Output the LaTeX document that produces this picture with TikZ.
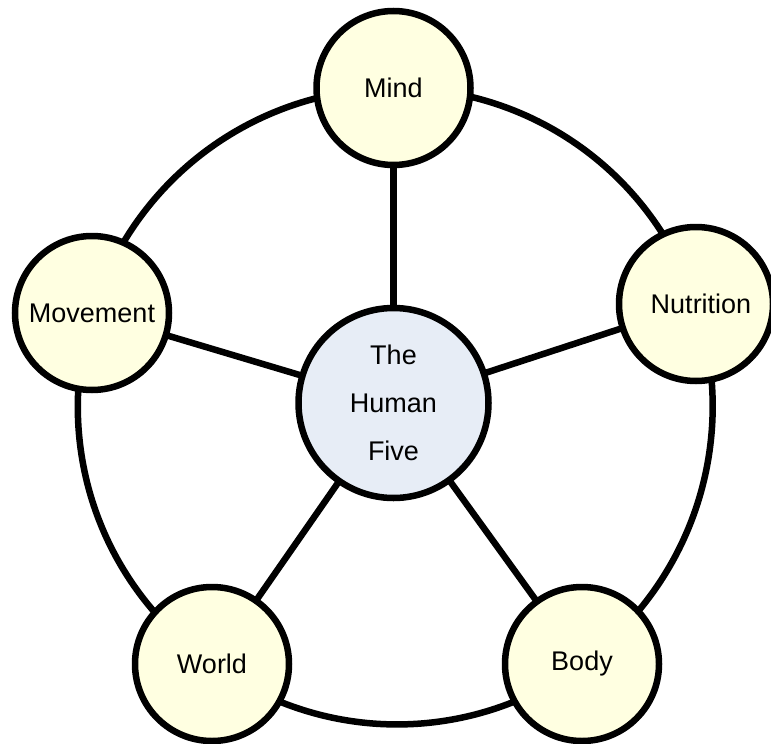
\documentclass[tikz,border=0pt]{standalone}
\usepackage{fontspec}
\setmainfont{Liberation Sans}
\usetikzlibrary{backgrounds}
\definecolor{outerfill}{RGB}{255,255,225}
\definecolor{centerfill}{RGB}{231,237,246}
\begin{document}
\begin{tikzpicture}[x=1pt,y=-1pt,
  link/.style={line width=6.5pt},
  outernode/.style={circle,draw,line width=6.5pt,fill=outerfill,minimum size=154pt,inner sep=0pt,font=\fontsize{27}{32}\selectfont},
  hubnode/.style={circle,draw,line width=6.5pt,fill=centerfill,minimum size=190pt,inner sep=0pt,align=center,font=\fontsize{27}{48}\selectfont}]
\useasboundingbox (0,0) rectangle (771,744);
\node[hubnode] (hub) at (393.5,403) {The\\Human\\Five};
\node[outernode] (mind) at (393.5,88) {Mind};
\node[outernode] (nutr) at (696,304) {\hspace*{10pt}Nutrition};
\node[outernode] (body) at (582,664) {Body};
\node[outernode] (world) at (212,664) {World};
\node[outernode] (move) at (92,313) {Movement};
\begin{scope}[on background layer]
  \draw[link] (mind.center) to[bend left=36,looseness=0.95] (nutr.center);
  \draw[link] (nutr.center) to[bend left=36,looseness=0.95] (body.center);
  \draw[link] (body.center) to[bend left=36,looseness=0.95] (world.center);
  \draw[link] (world.center) to[bend left=36,looseness=0.95] (move.center);
  \draw[link] (move.center) to[bend left=36,looseness=0.95] (mind.center);
  \draw[link] (hub.center) -- (mind.center);
  \draw[link] (hub.center) -- (nutr.center);
  \draw[link] (hub.center) -- (body.center);
  \draw[link] (hub.center) -- (world.center);
  \draw[link] (hub.center) -- (move.center);
\end{scope}
\end{tikzpicture}
\end{document}
